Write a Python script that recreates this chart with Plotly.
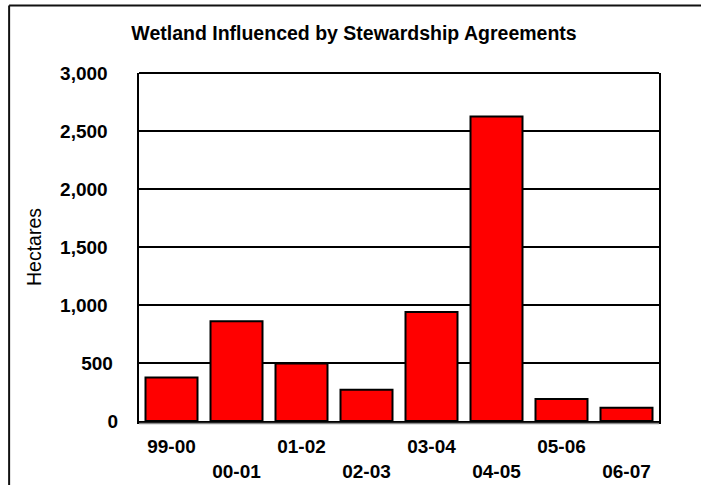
import plotly.graph_objects as go

# Fiscal years and wetland area influenced (hectares)
years = ["99-00", "00-01", "01-02", "02-03", "03-04", "04-05", "05-06", "06-07"]
hectares = [375, 860, 495, 270, 940, 2625, 190, 115]

# Y axis ticks
y_ticks = [0, 500, 1000, 1500, 2000, 2500, 3000]
y_tick_text = ["0", "500\u00a0", "1,000\u00a0\u00a0", "1,500\u00a0\u00a0",
               "2,000\u00a0\u00a0", "2,500\u00a0\u00a0", "3,000\u00a0\u00a0"]

# Staggered category labels: every other label drops to a second row
x_tick_text = [y if i % 2 == 0 else "<br>" + y for i, y in enumerate(years)]

FONT = "Arial, Liberation Sans, sans-serif"

W, H = 701, 485
L, R, T, B = 138.5, 42, 73, 64
plot_w = W - L - R
plot_h = H - T - B


def px_to_paper_x(px):
    return (px - L) / plot_w


def px_to_paper_y(py):
    return (H - B - py) / plot_h


fig = go.Figure(
    go.Bar(
        x=years,
        y=hectares,
        marker=dict(color="#ff0000", line=dict(color="#000000", width=2)),
    )
)

fig.update_layout(
    width=W,
    height=H,
    margin=dict(l=L, r=R, t=T, b=B, autoexpand=False),
    paper_bgcolor="white",
    plot_bgcolor="white",
    bargap=0.2,
    showlegend=False,
    font=dict(family=FONT, color="#000000"),
    title=dict(
        text="Wetland Influenced by Stewardship Agreements",
        font=dict(family=FONT, size=19.5, weight="bold", color="#000000"),
        x=354 / W,
        xanchor="center",
        xref="container",
        y=1 - 33.5 / H,
        yanchor="middle",
        yref="container",
    ),
    xaxis=dict(
        type="category",
        tickvals=years,
        ticktext=x_tick_text,
        tickfont=dict(family=FONT, size=19, weight="bold", color="#000000"),
        showgrid=False,
        showline=True,
        linecolor="#000000",
        linewidth=3,
        ticks="",
        ticklabelstandoff=6,
        tickangle=0,
    ),
    yaxis=dict(
        range=[0, 3000],
        tickvals=y_ticks,
        ticktext=y_tick_text,
        tickfont=dict(family=FONT, size=19, weight="bold", color="#000000"),
        showgrid=True,
        gridcolor="#000000",
        gridwidth=1.6,
        showline=True,
        mirror=True,
        linecolor="#000000",
        linewidth=2,
        ticks="",
        ticklabelstandoff=15,
        zeroline=False,
        title=dict(
            text="Hectares",
            font=dict(family=FONT, size=19.5, color="#000000"),
            standoff=13,
        ),
    ),
)

# Top edge of the plotting area (the 3,000 line)
fig.add_shape(
    type="line", xref="paper", yref="paper",
    x0=0, x1=1, y0=1, y1=1,
    line=dict(color="#000000", width=2),
)

# Soft grey shadow under the base line
fig.add_shape(
    type="line", xref="paper", yref="paper",
    x0=0, x1=1, y0=px_to_paper_y(423.5), y1=px_to_paper_y(423.5),
    line=dict(color="#8a8a8a", width=1.5),
)

# Outer frame of the chart (left and top edges)
fig.add_shape(
    type="line", xref="paper", yref="paper",
    x0=px_to_paper_x(8.5), x1=px_to_paper_x(8.5),
    y0=px_to_paper_y(5.5), y1=px_to_paper_y(500),
    line=dict(color="#111111", width=2),
)
fig.add_shape(
    type="line", xref="paper", yref="paper",
    x0=px_to_paper_x(8.5), x1=px_to_paper_x(720),
    y0=px_to_paper_y(5.5), y1=px_to_paper_y(5.5),
    line=dict(color="#111111", width=2),
)

fig.write_html("out.html")
